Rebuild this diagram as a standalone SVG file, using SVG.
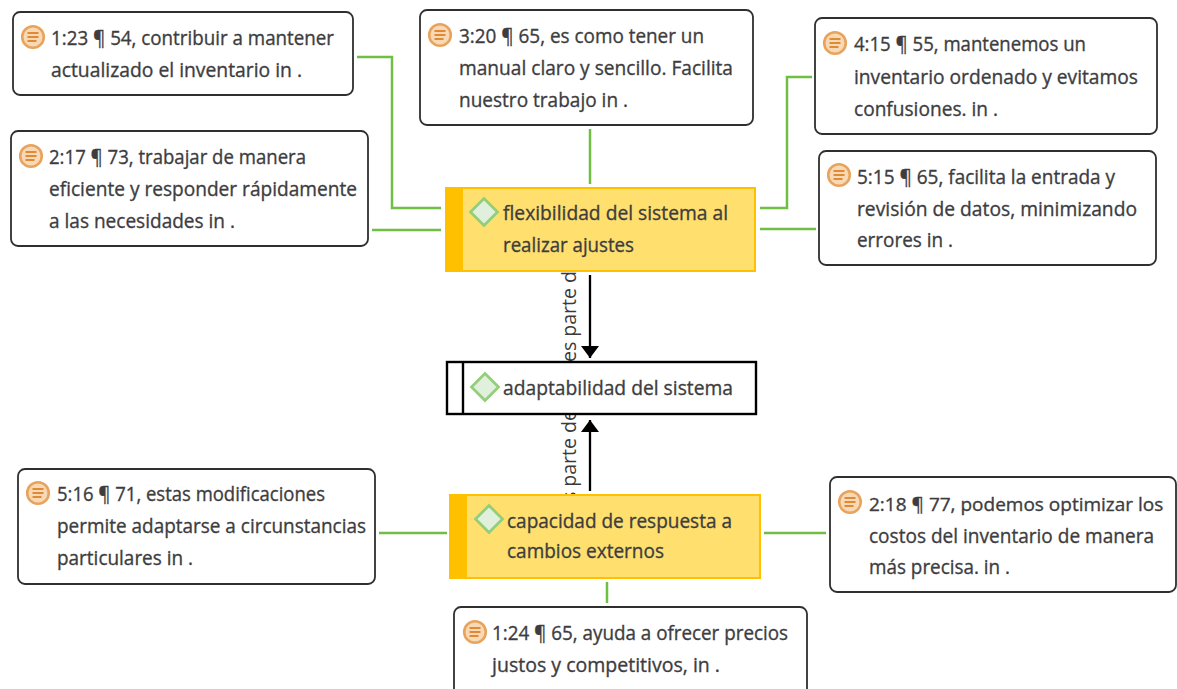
<svg xmlns="http://www.w3.org/2000/svg" xmlns:xlink="http://www.w3.org/1999/xlink" width="1177" height="689" viewBox="0 0 1177 689">
<style>
text{font-family:"Open Sans","Noto Sans","DejaVu Sans",sans-serif;font-size:20.5px;fill:#3d3d3f;stroke:#3d3d3f;stroke-width:.35}
.q{fill:#fff;stroke:#2f2f2f;stroke-width:1.8}
.code{fill:#ffe06e;stroke:#ffc000;stroke-width:2}
.side{fill:#ffc000}
.g{fill:none;stroke:#6fbf44;stroke-width:2.5}
.k{fill:none;stroke:#000;stroke-width:2.3}
text.lab{font-size:19.5px;fill:#3a3a3a;stroke:none}
text.fit{font-size:19px}
</style>
<defs>
<marker id="arr" markerUnits="userSpaceOnUse" markerWidth="13" markerHeight="19" refX="12" refY="9" orient="auto"><path d="M0,0 L12,9 L0,18 Z" fill="#000"/></marker>
<g id="doc"><circle r="10.8" fill="#f8d9b6" stroke="#e8a35c" stroke-width="2.6"/><path d="M-5.5,-4H5.5M-5.5,0H5.5M-5.5,4H3.5" stroke="#e08a35" stroke-width="1.8" fill="none"/></g>
<path id="dia" d="M0,-13.5L13.5,0L0,13.5L-13.5,0Z" fill="#e0f0dc" stroke="#93cf7a" stroke-width="2.8"/>
</defs>

<g id="labels">
<text class="lab" transform="translate(575.5,362) rotate(-90)">es parte de</text>
<text class="lab" transform="translate(575.5,512) rotate(-90)">es parte de</text>
</g>

<g id="connectors">
<path class="g" d="M357,57H392V208H441"/>
<path class="g" d="M372,230H441"/>
<path class="g" d="M590,129V184"/>
<path class="g" d="M760,208H787V77H812"/>
<path class="g" d="M760,229H816"/>
<path class="g" d="M379,533H447"/>
<path class="g" d="M764,533H826"/>
<path class="g" d="M607,582V603"/>
<path class="k" d="M590,275V358" marker-end="url(#arr)"/>
<path class="k" d="M590,491V420" marker-end="url(#arr)"/>
</g>

<g id="q-1-23"><rect class="q" x="13" y="12" width="340" height="83" rx="7"/><use xlink:href="#doc" href="#doc" x="33" y="37"/>
<text x="51" y="45" textLength="283" lengthAdjust="spacingAndGlyphs">1:23 ¶ 54, contribuir a mantener</text>
<text x="51" y="77" textLength="251" lengthAdjust="spacingAndGlyphs">actualizado el inventario in .</text></g>

<g id="q-2-17"><rect class="q" x="11" y="131" width="357" height="115" rx="7"/><use xlink:href="#doc" href="#doc" x="31" y="156"/>
<text x="49" y="164" textLength="257" lengthAdjust="spacingAndGlyphs">2:17 ¶ 73, trabajar de manera</text>
<text x="49" y="196" textLength="308" lengthAdjust="spacingAndGlyphs">eficiente y responder rápidamente</text>
<text x="49" y="228" textLength="186" lengthAdjust="spacingAndGlyphs">a las necesidades in .</text></g>

<g id="q-3-20"><rect class="q" x="420" y="10" width="333" height="115" rx="7"/><use xlink:href="#doc" href="#doc" x="440" y="35"/>
<text x="459" y="43" textLength="245" lengthAdjust="spacingAndGlyphs">3:20 ¶ 65, es como tener un</text>
<text x="459" y="75" textLength="274" lengthAdjust="spacingAndGlyphs">manual claro y sencillo. Facilita</text>
<text x="459" y="107" textLength="169" lengthAdjust="spacingAndGlyphs">nuestro trabajo in .</text></g>

<g id="q-4-15"><rect class="q" x="815" y="18" width="342" height="116" rx="7"/><use xlink:href="#doc" href="#doc" x="835" y="43"/>
<text x="854" y="51" textLength="232" lengthAdjust="spacingAndGlyphs">4:15 ¶ 55, mantenemos un</text>
<text x="854" y="84" textLength="284" lengthAdjust="spacingAndGlyphs">inventario ordenado y evitamos</text>
<text x="854" y="116" textLength="144" lengthAdjust="spacingAndGlyphs">confusiones. in .</text></g>

<g id="q-5-15"><rect class="q" x="819" y="151" width="337" height="114" rx="7"/><use xlink:href="#doc" href="#doc" x="839" y="175"/>
<text x="857" y="184" textLength="258" lengthAdjust="spacingAndGlyphs">5:15 ¶ 65, facilita la entrada y</text>
<text x="857" y="216" textLength="280" lengthAdjust="spacingAndGlyphs">revisión de datos, minimizando</text>
<text x="857" y="247" textLength="96" lengthAdjust="spacingAndGlyphs">errores in .</text></g>

<g id="code-flex"><rect class="code" x="446" y="188" width="309" height="83"/><rect class="side" x="445" y="187" width="18" height="85"/><use xlink:href="#dia" href="#dia" x="484" y="212"/>
<text x="503" y="220" textLength="225" lengthAdjust="spacingAndGlyphs">flexibilidad del sistema al</text>
<text x="503" y="252" textLength="131" lengthAdjust="spacingAndGlyphs">realizar ajustes</text></g>

<g id="code-adapt"><rect x="447" y="362" width="309" height="52" fill="#fff" stroke="#000" stroke-width="2.4"/><path d="M463,362V414" stroke="#000" stroke-width="2.4"/><use xlink:href="#dia" href="#dia" x="485" y="387"/>
<text x="503" y="395" textLength="230" lengthAdjust="spacingAndGlyphs">adaptabilidad del sistema</text></g>

<g id="code-cap"><rect class="code" x="450" y="495" width="310" height="83"/><rect class="side" x="449" y="494" width="18" height="85"/><use xlink:href="#dia" href="#dia" x="489" y="519"/>
<text x="507" y="528" textLength="225" lengthAdjust="spacingAndGlyphs">capacidad de respuesta a</text>
<text x="507" y="558" textLength="157" lengthAdjust="spacingAndGlyphs">cambios externos</text></g>

<g id="q-5-16"><rect class="q" x="18" y="469" width="357" height="115" rx="7"/><use xlink:href="#doc" href="#doc" x="38" y="493"/>
<text x="57" y="501" textLength="268" lengthAdjust="spacingAndGlyphs">5:16 ¶ 71, estas modificaciones</text>
<text x="57" y="533" textLength="309" lengthAdjust="spacingAndGlyphs">permite adaptarse a circunstancias</text>
<text x="57" y="565" textLength="136" lengthAdjust="spacingAndGlyphs">particulares in .</text></g>

<g id="q-2-18"><rect class="q" x="830" y="477" width="346" height="115" rx="7"/><use xlink:href="#doc" href="#doc" x="850" y="502"/>
<text class="fit" x="869" y="511">2:18 ¶ 77, podemos optimizar los</text>
<text x="869" y="543" textLength="285" lengthAdjust="spacingAndGlyphs">costos del inventario de manera</text>
<text x="869" y="574" textLength="141" lengthAdjust="spacingAndGlyphs">más precisa. in .</text></g>

<g id="q-1-24"><rect class="q" x="454" y="607" width="353" height="90" rx="7"/><use xlink:href="#doc" href="#doc" x="475" y="632"/>
<text x="492" y="640" textLength="296" lengthAdjust="spacingAndGlyphs">1:24 ¶ 65, ayuda a ofrecer precios</text>
<text x="492" y="672" textLength="228" lengthAdjust="spacingAndGlyphs">justos y competitivos, in .</text></g>
</svg>
